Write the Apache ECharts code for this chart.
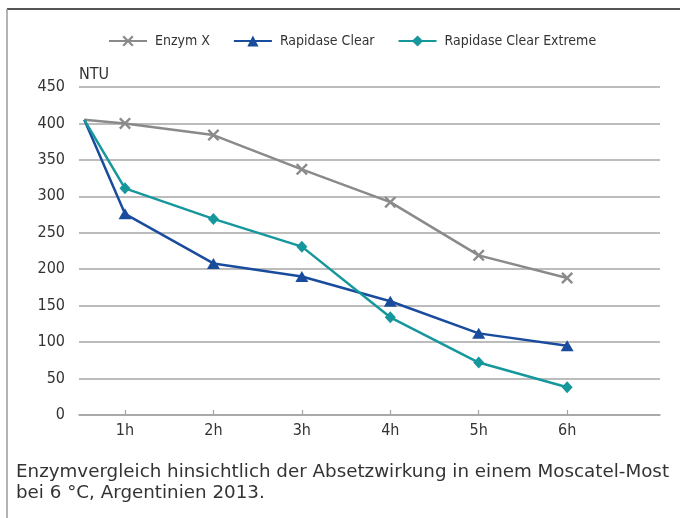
<!DOCTYPE html>
<html>
<head>
<meta charset="utf-8">
<script src="https://cdn.jsdelivr.net/npm/echarts@6/dist/echarts.min.js"></script>
<style>
html,body{margin:0;padding:0;background:#fff;}
#chart{width:680px;height:518px;}
</style>
</head>
<body>
<div id="chart"></div>
<script>
// Data
var seriesNames = ['Enzym X', 'Rapidase Clear', 'Rapidase Clear Extreme'];
var hours = [0.54, 1, 2, 3, 4, 5, 6];
var hourTicks = [1, 2, 3, 4, 5, 6];
var hourLabels = ['1h', '2h', '3h', '4h', '5h', '6h'];
var enzymX = [405, 400, 384, 337, 292, 219, 188];
var rapidaseClear = [405, 276, 208, 190, 156, 112, 95];
var rapidaseClearExtreme = [405, 311, 269, 231, 134, 72, 38];
var yTicks = [0, 50, 100, 150, 200, 250, 300, 350, 400, 450];
var captionLines = ['Enzymvergleich hinsichtlich der Absetzwirkung in einem Moscatel-Most', 'bei 6 °C, Argentinien 2013.'];

var condensed = '"DejaVu Sans Condensed", "DejaVu Sans", sans-serif';
var colors = ['#8a8a8a', '#1a4c9e', '#16979b'];
var crossPath = 'path://M0,1.4L1.4,0L5,3.6L8.6,0L10,1.4L6.4,5L10,8.6L8.6,10L5,6.4L1.4,10L0,8.6L3.6,5Z';

function toPoints(vals) {
  return vals.map(function (v, i) {
    var p = { value: [hours[i], v] };
    if (i === 0) { p.symbol = 'none'; }
    return p;
  });
}

var chart = echarts.init(document.getElementById('chart'), null, { renderer: 'canvas' });
chart.setOption({
  animation: false,
  backgroundColor: '#fff',
  color: colors,
  legend: {
    left: 103,
    top: 29,
    itemWidth: 38,
    itemHeight: 14,
    itemGap: 23,
    textStyle: { fontFamily: condensed, fontSize: 14, color: '#333', padding: [0, 0, 0, 3] },
    data: seriesNames
  },
  grid: { left: 79, right: 20, top: 87, bottom: 103, containLabel: false },
  xAxis: {
    type: 'value',
    min: 0.48,
    max: 7.05,
    axisLine: { show: true, lineStyle: { color: '#a3a3a3', width: 1.5 } },
    axisTick: { show: true, inside: true, length: 5, customValues: hourTicks, lineStyle: { color: '#a3a3a3', width: 1.2 } },
    axisLabel: {
      customValues: hourTicks,
      margin: 8,
      fontFamily: condensed, fontSize: 16, color: '#333',
      formatter: function (v) {
        var i = hourTicks.indexOf(Math.round(v));
        return i >= 0 ? hourLabels[i] : '';
      }
    },
    splitLine: { show: false }
  },
  yAxis: {
    type: 'value',
    min: 0,
    max: 450,
    interval: 50,
    name: 'NTU',
    nameLocation: 'end',
    nameGap: 12,
    nameTextStyle: { fontFamily: condensed, fontSize: 16, color: '#333', align: 'left', verticalAlign: 'middle' },
    axisLine: { show: false },
    axisTick: { show: false },
    axisLabel: {
      margin: 14, fontFamily: condensed, fontSize: 16, color: '#333',
      formatter: function (v) { return yTicks.indexOf(v) >= 0 ? String(v) : ''; }
    },
    splitLine: { show: true, lineStyle: { color: '#a6a6a6', width: 1.5 } }
  },
  series: [
    {
      name: seriesNames[0], type: 'line', data: toPoints(enzymX),
      symbol: crossPath, symbolSize: 12,
      lineStyle: { width: 2.5, color: colors[0] },
      itemStyle: { color: colors[0] }
    },
    {
      name: seriesNames[1], type: 'line', data: toPoints(rapidaseClear),
      symbol: 'triangle', symbolSize: [13, 11],
      lineStyle: { width: 2.5, color: colors[1] },
      itemStyle: { color: colors[1] }
    },
    {
      name: seriesNames[2], type: 'line', data: toPoints(rapidaseClearExtreme),
      symbol: 'diamond', symbolSize: [11, 12],
      lineStyle: { width: 2.5, color: colors[2] },
      itemStyle: { color: colors[2] }
    }
  ],
  graphic: [
    { type: 'line', shape: { x1: 7, y1: 9, x2: 680, y2: 9 }, style: { stroke: '#555', lineWidth: 2 } },
    { type: 'line', shape: { x1: 7, y1: 9, x2: 7, y2: 518 }, style: { stroke: '#9a9a9a', lineWidth: 1.5 } },
    {
      type: 'text', left: 16, top: 462,
      style: {
        text: captionLines.join('\n'),
        font: '18.3px "DejaVu Sans", sans-serif',
        lineHeight: 21,
        fill: '#333'
      }
    }
  ]
});
</script>
</body>
</html>
